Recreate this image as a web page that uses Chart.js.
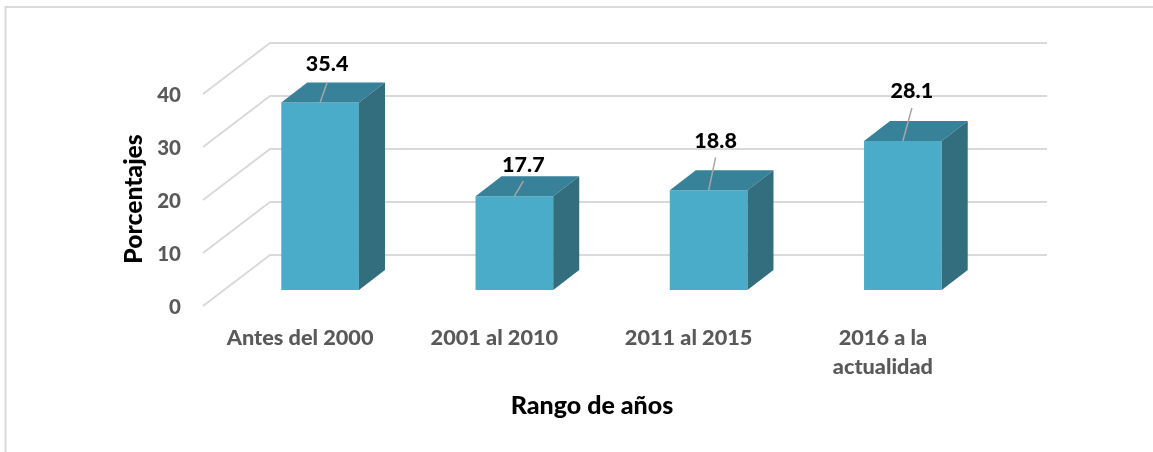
<!DOCTYPE html>
<html>
<head>
<meta charset="utf-8">
<style>html,body{margin:0;padding:0;background:#fff}canvas{display:block}</style>
<script src="https://cdn.jsdelivr.net/npm/chart.js@4/dist/chart.umd.min.js"></script>
</head>
<body>
<canvas id="c" width="1153" height="452"></canvas>
<script>
const categories = ["Antes del 2000", "2001 al 2010", "2011 al 2015", ["2016 a la", "actualidad"]];
const porcentajes = [35.4, 17.7, 18.8, 28.1];
const xTitle = "Rango de años";
const yTitle = "Porcentajes";

const FONT = "Lato, Carlito, sans-serif";
const GRID = "#d9d9d9", FRONT = "#4aacc8", TOP = "#378298", SIDE = "#326e7e", LEADER = "#a6a6a6";
const DEPTH = {dx: 26, dy: 20};
const WALL = {frontX: 203, frontDy: 16, backX: 270, backDy: -35, right: 1047};
const LABEL_LIFT = [38, 31, 49, 50];
const LABEL_SHIFT = [7, 9, 7, 9];
const LEADER_TOP = [20, 15, 33, 33];

const box3d = {
  id: "box3d",
  beforeDraw(chart) {
    const c = chart.ctx;
    c.save();
    c.strokeStyle = GRID; c.lineWidth = 2;
    c.beginPath(); c.moveTo(5.5, 452); c.lineTo(5.5, 7); c.lineTo(1153, 7); c.stroke();
    c.restore();
  },
  beforeDatasetsDraw(chart) {
    const c = chart.ctx, y = chart.scales.y;
    c.save();
    c.strokeStyle = GRID; c.lineWidth = 2; c.lineJoin = "round";
    y.ticks.forEach(t => {
      const p = y.getPixelForValue(t.value);
      c.beginPath();
      c.moveTo(WALL.frontX, p + WALL.frontDy);
      c.lineTo(WALL.backX, p + WALL.backDy);
      c.lineTo(WALL.right, p + WALL.backDy);
      c.stroke();
    });
    c.restore();
  },
  afterDatasetsDraw(chart) {
    const c = chart.ctx, meta = chart.getDatasetMeta(0);
    c.save();
    meta.data.forEach((bar, i) => {
      const {x, y, base, width} = bar.getProps(["x", "y", "base", "width"], true);
      const l = x - width / 2, r = x + width / 2;
      c.fillStyle = TOP;
      c.beginPath(); c.moveTo(l, y); c.lineTo(l + DEPTH.dx, y - DEPTH.dy); c.lineTo(r + DEPTH.dx, y - DEPTH.dy); c.lineTo(r, y); c.closePath(); c.fill();
      c.fillStyle = SIDE;
      c.beginPath(); c.moveTo(r, y); c.lineTo(r + DEPTH.dx, y - DEPTH.dy); c.lineTo(r + DEPTH.dx, base - DEPTH.dy); c.lineTo(r, base); c.closePath(); c.fill();
      c.strokeStyle = LEADER; c.lineWidth = 1.5;
      c.beginPath(); c.moveTo(x, y); c.lineTo(x + LABEL_SHIFT[i], y - LEADER_TOP[i]); c.stroke();
      c.fillStyle = "#000"; c.font = "900 21.5px " + FONT; c.textAlign = "center"; c.textBaseline = "middle";
      c.fillText(porcentajes[i].toFixed(1), x + LABEL_SHIFT[i], y - LABEL_LIFT[i]);
    });
    c.restore();
  }
};

function shiftTitle(scale, dx, dy) {
  if (scale._shifted) return;
  scale._shifted = true;
  const orig = scale.drawTitle;
  scale.drawTitle = function () {
    this.ctx.save(); this.ctx.translate(dx, dy); orig.call(this); this.ctx.restore();
  };
}

new Chart(document.getElementById("c"), {
  type: "bar",
  data: {labels: categories, datasets: [{data: porcentajes, backgroundColor: FRONT, borderWidth: 0, barPercentage: 0.8, categoryPercentage: 0.5}]},
  plugins: [box3d],
  options: {
    responsive: false, animation: false,
    layout: {padding: {left: 119, right: 153, top: 78, bottom: 0}},
    plugins: {legend: {display: false}, tooltip: {enabled: false}},
    scales: {
      x: {
        grid: {display: false}, border: {display: false},
        afterFit(s) { s.height = 162; shiftTitle(s, -19.5, 0); },
        ticks: {color: "#595959", font: {family: FONT, weight: "900", size: 21.7, lineHeight: 29 / 21.7}, labelOffset: -20, padding: 26, maxRotation: 0, minRotation: 0, autoSkip: false},
        title: {display: true, text: xTitle, color: "#000", font: {family: FONT, weight: "900", size: 25}, padding: {top: 0, bottom: 31}}
      },
      y: {
        min: 0, max: 40,
        grid: {display: false, drawTicks: false}, border: {display: false},
        afterFit(s) { s.width = 104; shiftTitle(s, 0, 15); },
        ticks: {stepSize: 10, color: "#595959", font: {family: FONT, weight: "900", size: 20.5}, labelOffset: 17, padding: 42},
        title: {display: true, text: yTitle, color: "#000", font: {family: FONT, weight: "900", size: 24.7}, padding: {top: 0, bottom: 0}}
      }
    }
  }
});
</script>
</body>
</html>
